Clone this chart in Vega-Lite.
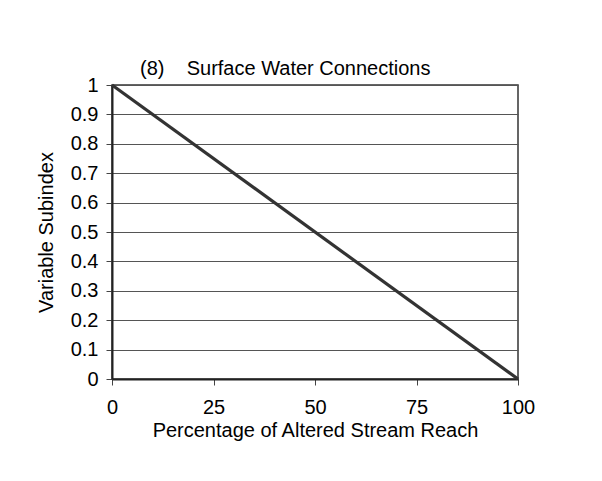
{
  "$schema": "https://vega.github.io/schema/vega-lite/v6.json",
  "width": 406,
  "height": 294,
  "autosize": "none",
  "padding": {"left": 112, "top": 85, "right": 84, "bottom": 102},
  "background": "white",
  "title": {
    "text": "(8)\u00a0\u00a0\u00a0\u00a0Surface Water Connections",
    "anchor": "start",
    "frame": "group",
    "dx": 28,
    "offset": -4,
    "fontSize": 20,
    "font": "Liberation Sans",
    "fontWeight": "normal",
    "color": "black"
  },
  "data": {
    "values": [
      {"pct": 0, "subindex": 1},
      {"pct": 100, "subindex": 0}
    ]
  },
  "mark": {"type": "line", "color": "#333333", "strokeWidth": 3.2},
  "encoding": {
    "x": {
      "field": "pct",
      "type": "quantitative",
      "scale": {"domain": [0, 100], "nice": false},
      "axis": {
        "values": [0, 25, 50, 75, 100],
        "grid": false,
        "labelFlush": false,
        "labelPadding": 12,
        "title": "Percentage of Altered Stream Reach",
        "titlePadding": 3
      }
    },
    "y": {
      "field": "subindex",
      "type": "quantitative",
      "scale": {"domain": [0, 1], "nice": false},
      "axis": {
        "values": [0, 0.1, 0.2, 0.3, 0.4, 0.5, 0.6, 0.7, 0.8, 0.9, 1],
        "format": "~g",
        "grid": true,
        "labelFlush": false,
        "title": "Variable Subindex",
        "titlePadding": 14
      }
    }
  },
  "config": {
    "font": "Liberation Sans",
    "view": {"stroke": "#333333", "strokeWidth": 1.5},
    "axis": {
      "domainColor": "#222222",
      "domainWidth": 2,
      "tickColor": "#444444",
      "tickSize": 6,
      "tickWidth": 1,
      "labelFontSize": 20,
      "labelColor": "black",
      "labelPadding": 8,
      "titleFontSize": 20,
      "titleFontWeight": "normal",
      "titleColor": "black",
      "gridColor": "#555555",
      "gridWidth": 1,
      "gridOpacity": 1
    }
  }
}
